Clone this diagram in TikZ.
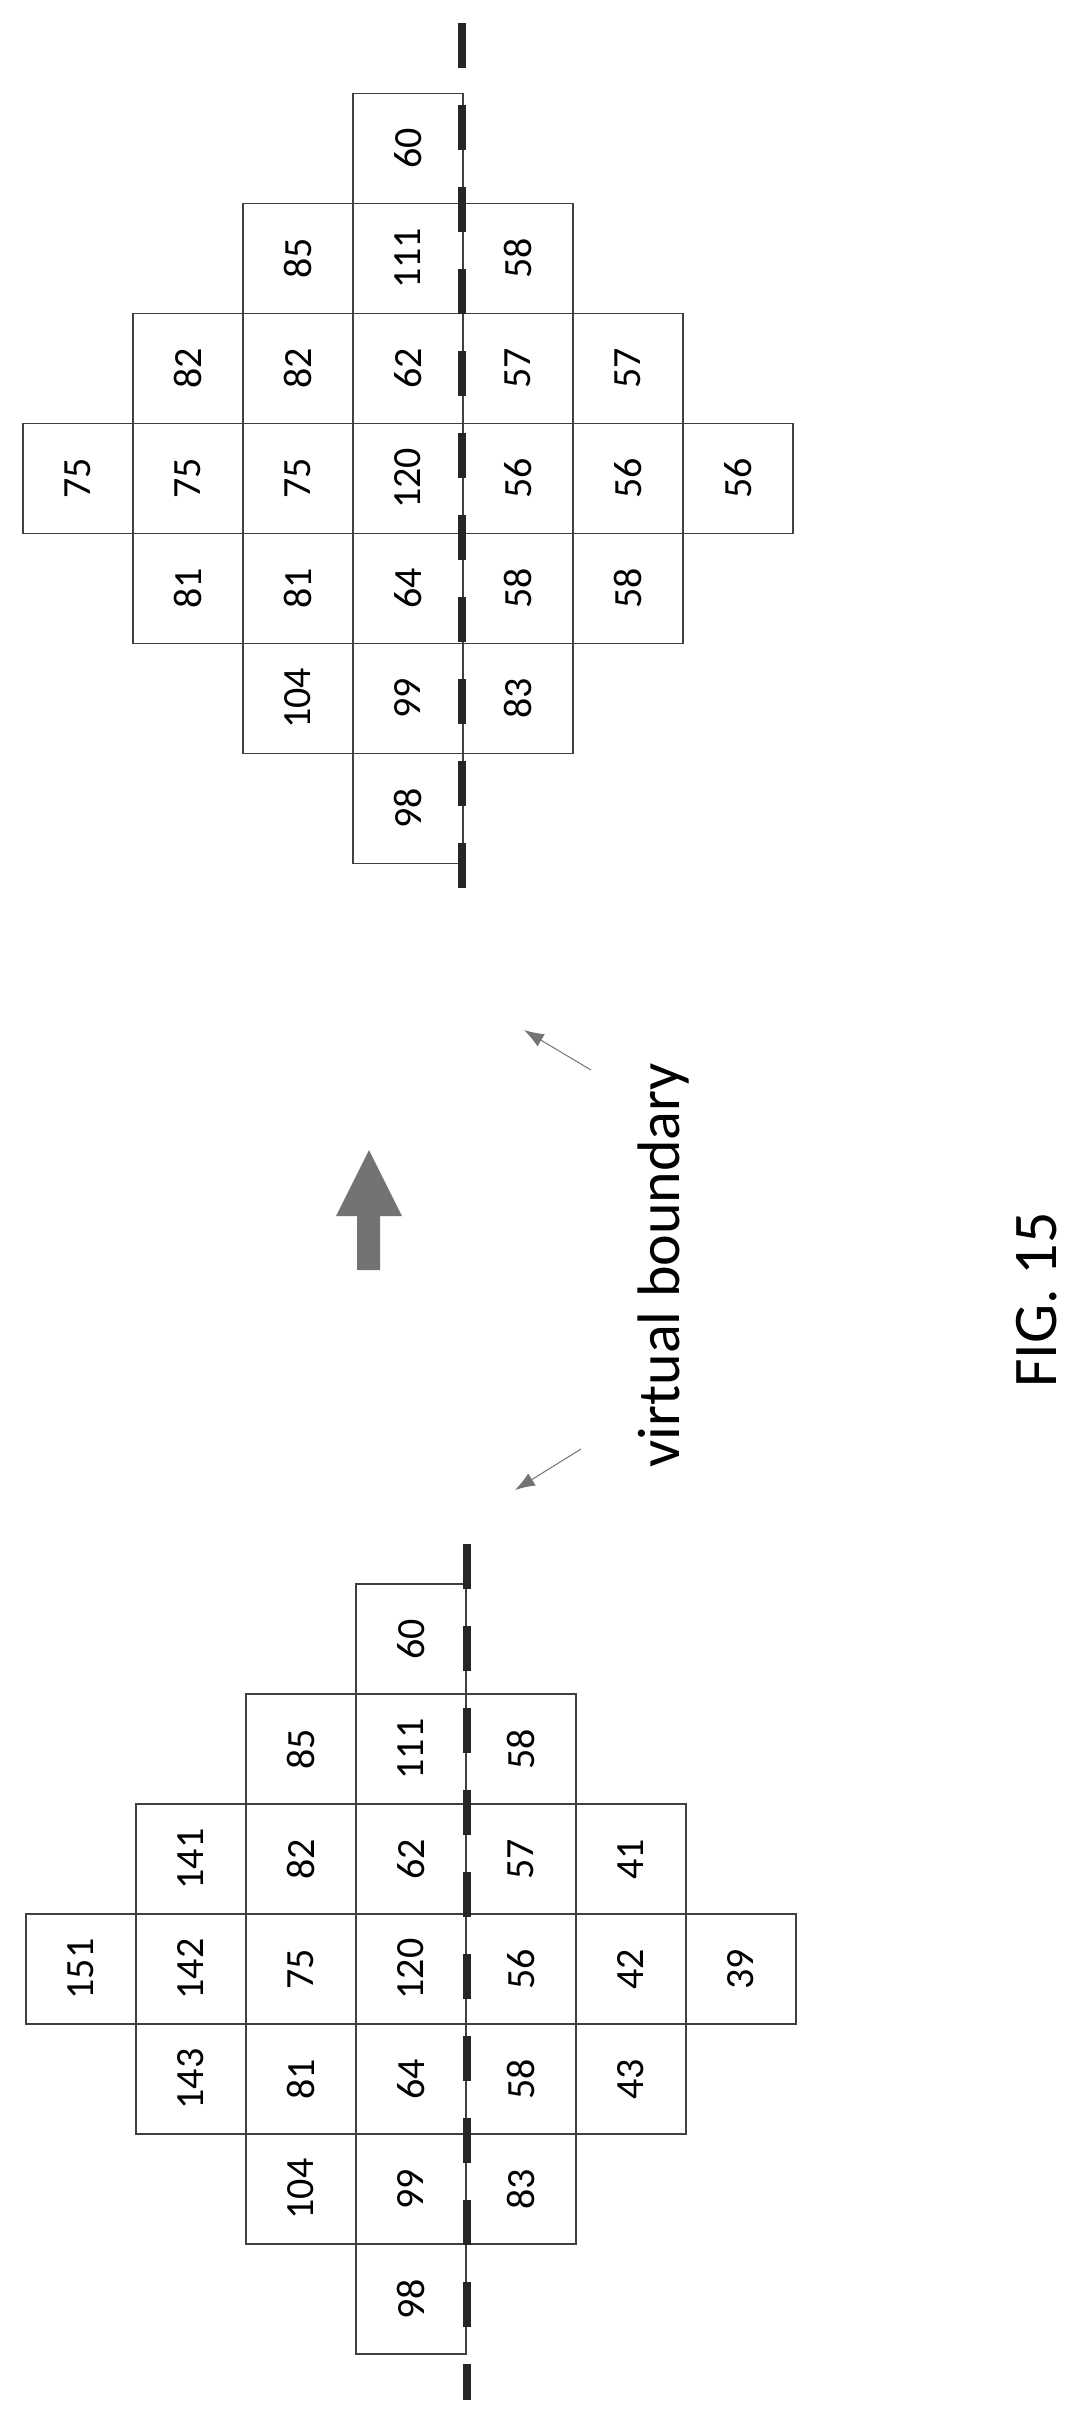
\documentclass[tikz,border=0pt]{standalone}
\usepackage{fontspec}
\setmainfont{Carlito}
\usetikzlibrary{positioning}
\usetikzlibrary{arrows.meta}

\begin{document}
\begin{tikzpicture}[x=1pt, y=-1pt]
\colorlet{border}{black!75}
\colorlet{pointer}{black!55}

\newcommand\side{110}

\tikzset{
    cell/.style={
        draw=border, line width=1.4pt, rectangle,
        minimum width=\side pt, minimum height=\side pt,
        inner sep=0pt, font=\fontsize{40}{44}\selectfont,
    },
    boundary/.style={
        black!85, line width=8pt,
        dash pattern=on 45pt off 37pt,
    },
    label/.style={rotate=90, inner sep=0pt},
}

\useasboundingbox (0, 0) rectangle (1075, 2418);

% upper grid
\begin{scope}[shift={(23, 93.5)}]
    \foreach \r/\c/\v in {0/3/60, 1/2/85, 1/3/111, 1/4/58,
            2/1/82, 2/2/82, 2/3/62, 2/4/57, 2/5/57,
            3/0/75, 3/1/75, 3/2/75, 3/3/120, 3/4/56, 3/5/56, 3/6/56,
            4/1/81, 4/2/81, 4/3/64, 4/4/58, 4/5/58,
            5/2/104, 5/3/99, 5/4/83, 6/3/98}
        \node[cell] (up-\r-\c) at ({55 + \side * \c}, {55 + \side * \r})
            {\rotatebox{90}{\v}};
\end{scope}

% lower grid
\begin{scope}[shift={(26, 1584)}]
    \foreach \r/\c/\v in {0/3/60, 1/2/85, 1/3/111, 1/4/58,
            2/1/141, 2/2/82, 2/3/62, 2/4/57, 2/5/41,
            3/0/151, 3/1/142, 3/2/75, 3/3/120, 3/4/56, 3/5/42, 3/6/39,
            4/1/143, 4/2/81, 4/3/64, 4/4/58, 4/5/43,
            5/2/104, 5/3/99, 5/4/83, 6/3/98}
        \node[cell] (low-\r-\c) at ({55 + \side * \c}, {55 + \side * \r})
            {\rotatebox{90}{\v}};
\end{scope}

\coordinate (up-vb-t) at (462, 23);
\coordinate (up-vb-b) at (462, 917);
\coordinate (low-vb-t) at (467, 1544);
\coordinate (low-vb-b) at (467, 2400);

\draw[boundary] (up-vb-t) -- (up-vb-b);
\draw[boundary] (low-vb-t) -- (low-vb-b);

% transfer arrow
\fill[black!55] (357, 1270) -- (357, 1216) -- (336, 1216) -- (369, 1150)
    -- (402, 1216) -- (380, 1216) -- (380, 1270) -- cycle;

\node[label, font=\fontsize{60}{66}\selectfont] (vb-text) at (663, 1265)
    {virtual boundary};
\node[label, font=\fontsize{62}{68}\selectfont] (fig) at (1037, 1300)
    {FIG. 15};

\coordinate (ptr-up) at (524, 1030);
\coordinate (ptr-low) at (515, 1490);
\draw[pointer, line width=1pt, -{Latex[length=7mm, width=5mm]}]
    (591, 1070) -- (ptr-up);
\draw[pointer, line width=1pt, -{Latex[length=7mm, width=5mm]}]
    (581, 1449) -- (ptr-low);
\end{tikzpicture}
\end{document}
